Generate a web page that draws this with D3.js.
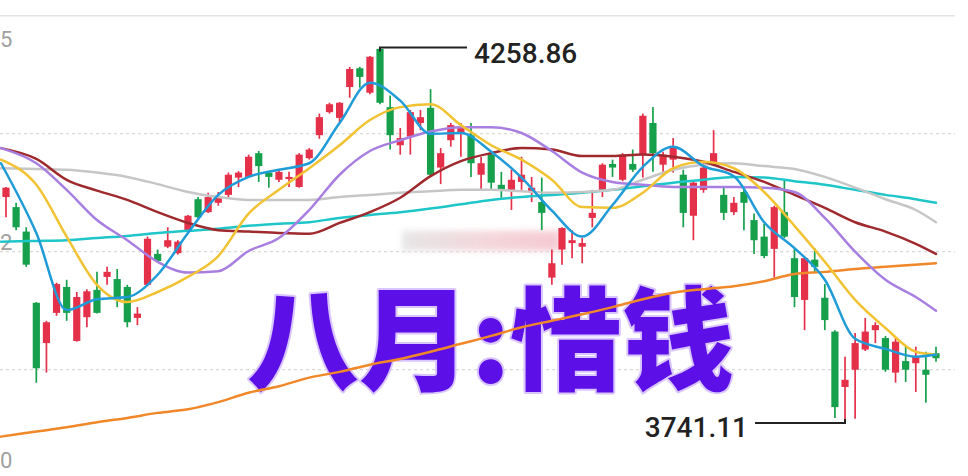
<!DOCTYPE html>
<html><head><meta charset="utf-8">
<script src="https://cdn.jsdelivr.net/npm/d3@7"></script>
<style>html,body{margin:0;padding:0;background:#fff;overflow:hidden}svg{display:block}</style>
</head><body>
<svg id="c" width="968" height="476"></svg>
<script>
// ---- candle data (index 0..92) ----
const open  = [4051,4037,4003,3904,3848,3890,3926,3851,3884,3922,3940,3937,3926,3883,3929,3972,3982,3973,4005,4048,4030,4043,4054,4078,4079,4112,4085,4075,4076,4065,4105,4137,4169,4161,4204,4230,4196,4257,4176,4123,4135,4154,4175,4092,4130,4139,4137,4082,4110,4068,4061,4072,4058,4044,3939,3978,3987,3982,4022,4061,4097,4075,4097,4110,4154,4096,4103,4082,4025,4061,4098,4054,4030,4058,4019,3996,3979,4030,3966,3908,3964,3911,3864,3787,3811,3839,3866,3855,3807,3823,3820,3811,3834];
const high  = [4065,4043,4009,3905,3879,3932,3936,3919,3923,3947,3954,3951,3929,3898,3996,3978,4009,3991,4026,4051,4057,4058,4085,4087,4110,4115,4087,4089,4086,4112,4119,4167,4182,4183,4232,4232,4247,4258.86,4192,4147,4172,4172,4201,4119,4154,4154,4154,4107,4114,4086,4089,4107,4079,4078,3978,4009,4005,3994,4061,4098,4103,4112,4117,4167,4176,4114,4133,4089,4073,4100,4144,4064,4051,4065,4028,4014,4039,4075,3980,3968,3980,3930,3866,3829,3862,3883,3877,3858,3855,3843,3843,3836,3843];
const low   = [4023,4005,3954,3793,3807,3886,3879,3850,3870,3889,3929,3898,3870,3873,3927,3961,3980,3971,4004,4022,4029,4039,4051,4065,4078,4072,4064,4072,4065,4064,4103,4132,4167,4155,4189,4203,4194,4180,4117,4110,4110,4144,4079,4069,4121,4107,4079,4061,4061,4050,4033,4061,4044,4005,3929,3957,3966,3959,4009,4051,4079,4073,4086,4078,4086,4085,4085,4009,3991,4057,4094,4019,4026,4005,3972,3966,3939,3994,3898,3866,3946,3866,3744,3741.11,3743,3837,3848,3808,3793,3794,3780,3765,3822];
const close = [4064,4009,3957,3813,3877,3930,3890,3912,3920,3890,3947,3908,3877,3889,3993,3962,3991,3989,4025,4023,4051,4051,4082,4085,4107,4094,4079,4086,4079,4110,4117,4162,4180,4182,4229,4218,4246,4182,4137,4133,4169,4162,4082,4112,4151,4147,4098,4098,4071,4061,4075,4082,4064,4029,3959,4008,3991,3987,4029,4096,4092,4110,4089,4164,4112,4110,4121,4029,4071,4092,4112,4029,4043,4043,3991,3969,4037,3996,3912,3966,3954,3880,3759,3797,3848,3864,3873,3811,3850,3811,3830,3804,3827];

// ---- moving-average lines, read at these candle positions ----
const maIdx  = [-0.5,3,6,9,12,15,18,21,24,27,30,33,36,39,42,45,48,51,54,57,60,63,66,69,72,75,78,81,84,87,90,92];
const maOrange = [3718,3725,3731,3738,3744,3751,3756,3766,3779,3788,3800,3808,3818,3826,3836,3847,3858,3870,3879,3888,3898,3909,3918,3923,3927,3934,3944,3947,3951,3954,3957,3959];
const maTeal   = [3989,3990,3991,3994,3997,4001,4004,4007,4011,4014,4016,4022,4026,4030,4035,4041,4047,4051,4054,4057,4061,4066,4071,4075,4079,4078,4073,4068,4061,4054,4048,4043];
const maGray   = [4091,4090,4089,4085,4079,4069,4058,4051,4047,4047,4047,4051,4054,4057,4059,4061,4061,4059,4057,4058,4061,4075,4089,4096,4098,4094,4090,4079,4064,4048,4033,4016];
const maMaroon = [4119,4104,4075,4060,4047,4030,4015,4005,4003,4001,4000,4015,4030,4050,4080,4101,4112,4119,4117,4108,4108,4110,4107,4100,4086,4072,4054,4036,4016,4003,3986,3972];
const maPurple = [4119,4098,4061,4019,3991,3961,3946,3948,3976,3994,4033,4082,4115,4130,4142,4148,4148,4140,4115,4085,4072,4068,4065,4065,4065,4064,4058,4022,3975,3936,3912,3893];
const maYellow = [4103,4068,3996,3929,3905,3919,3940,3969,4028,4061,4091,4123,4158,4176,4180,4151,4123,4103,4075,4037,4036,4057,4091,4100,4091,4058,4011,3961,3908,3869,3836,3832];
const maBlue   = [4098,4001,3894,3909,3912,3943,4001,4054,4079,4089,4098,4154,4210,4185,4139,4140,4114,4078,4032,3996,4040,4093,4121,4094,4080,4016,3980,3936,3854,3840,3829,3832];

// ---- axis / annotation texts ----
const gridVals   = [4139, 3975, 3811];
const topLineVal = 4303;
const yTickLabels = ["5", "2", "0"];
const yTickVals   = [4267, 3986, 3683];
const maxLabel = "4258.86", maxIdx = 37, maxVal = 4258.86;
const minLabel = "3741.11", minIdx = 83, minVal = 3741.11;
const title = "八月:惜钱";

const svg = d3.select("#c");
const x = d3.scaleLinear().domain([0, 92]).range([6, 936]);
const y = d3.scaleLinear().domain([3741.11, 4258.86]).range([420, 47.5]);

const defs = svg.append("defs");
const blur = defs.append("filter").attr("id","blur").attr("x","-20%").attr("y","-50%").attr("width","140%").attr("height","200%");
blur.append("feGaussianBlur").attr("stdDeviation", 3);
const lg = defs.append("linearGradient").attr("id","wm");
lg.append("stop").attr("offset","0%").attr("stop-color","#e4e4e4");
lg.append("stop").attr("offset","55%").attr("stop-color","#f3d2d8");
lg.append("stop").attr("offset","100%").attr("stop-color","#f4c4cc");

// top solid line
svg.append("line").attr("x1",0).attr("x2",955).attr("y1",y(topLineVal)).attr("y2",y(topLineVal))
  .attr("stroke","#e3e3e3").attr("stroke-width",1.5);
// dashed grid
svg.selectAll(".grid").data(gridVals).join("line")
  .attr("x1",0).attr("x2",955).attr("y1",d=>y(d)).attr("y2",d=>y(d))
  .attr("stroke","#cfcfcf").attr("stroke-width",1).attr("stroke-dasharray","3,3");
// y labels at the left edge
svg.selectAll(".yl").data(yTickLabels).join("text")
  .attr("x",0).attr("y",(d,i)=>y(yTickVals[i]))
  .attr("text-anchor","start").attr("dominant-baseline","middle")
  .attr("font-family","Roboto, 'DejaVu Sans', sans-serif").attr("font-size",22)
  .attr("fill","#a0a0a0").text(d=>d);

// blurred watermark
svg.append("rect").attr("x",402).attr("y",y(4004)).attr("width",158).attr("height",20)
  .attr("fill","url(#wm)").attr("filter","url(#blur)").attr("opacity",0.9);

// big title (under the chart marks)
svg.append("text").attr("x",247).attr("y",382)
  .attr("font-family","'Noto Sans CJK SC', sans-serif").attr("font-weight",900)
  .attr("font-size",112).attr("fill","#5c0fe6")
  .attr("stroke","#d9c6ff").attr("stroke-width",4).attr("paint-order","stroke")
  .attr("stroke-linejoin","round").text(title);

// candles
const up = "#e5304a", down = "#16a04c";
const idx = open.map((d,i)=>i);
const g = svg.append("g");
g.selectAll(".wick").data(idx).join("line")
  .attr("x1",i=>x(i)).attr("x2",i=>x(i)).attr("y1",i=>y(high[i])).attr("y2",i=>y(low[i]))
  .attr("stroke",i=>close[i]>=open[i]?up:down).attr("stroke-width",1.7);
g.selectAll(".body").data(idx).join("rect")
  .attr("x",i=>x(i)-3.6).attr("width",7.2)
  .attr("y",i=>y(Math.max(open[i],close[i])))
  .attr("height",i=>Math.max(2, Math.abs(y(open[i])-y(close[i]))))
  .attr("fill",i=>close[i]>=open[i]?up:down);

// MA lines
const lines = [
  [maOrange,"#f0882a"],[maTeal,"#1fc6c9"],[maGray,"#c6c6c6"],[maMaroon,"#9e2a2e"],
  [maPurple,"#a87fe0"],[maYellow,"#f1c232"],[maBlue,"#1f9bd7"]
];
const lineGen = d3.line().curve(d3.curveMonotoneX).x(d=>x(d[0])).y(d=>y(d[1]));
lines.forEach(([vals,col])=>{
  svg.append("path").datum(vals.map((v,i)=>[maIdx[i],v]))
    .attr("d",lineGen).attr("fill","none").attr("stroke",col).attr("stroke-width",2.5)
    .attr("stroke-linejoin","round").attr("stroke-linecap","round");
});

// annotations
const ax = x(maxIdx), ay = y(maxVal);
svg.append("path").attr("d",`M${ax},${ay+4}V${ay}H${ax+87}`).attr("fill","none").attr("stroke","#222").attr("stroke-width",2);
svg.append("text").attr("x",ax+94).attr("y",ay+15).attr("font-family","Roboto, sans-serif").attr("font-weight",500)
  .attr("font-size",28).attr("fill","#222").text(maxLabel);
const bx = x(minIdx), by = y(minVal)+3;
svg.append("path").attr("d",`M${bx},${by-4}V${by}H${bx-90}`).attr("fill","none").attr("stroke","#222").attr("stroke-width",2);
svg.append("text").attr("x",bx-97).attr("y",by+14).attr("text-anchor","end").attr("font-family","Roboto, sans-serif").attr("font-weight",500)
  .attr("font-size",28).attr("fill","#222").text(minLabel);
</script>
</body></html>
